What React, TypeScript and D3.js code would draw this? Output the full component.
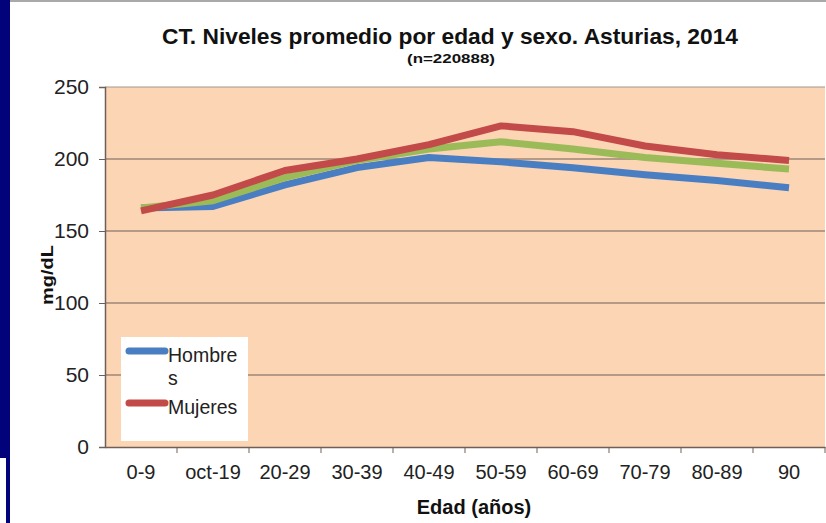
import React, { useRef, useEffect } from "react";
import * as d3 from "d3";

const categories = ["0-9", "oct-19", "20-29", "30-39", "40-49", "50-59", "60-69", "70-79", "80-89", "90"];
const hombres = [166, 167, 182, 194, 201, 198, 194, 189, 185, 180];
const mujeres = [164, 175, 192, 200, 210, 223, 219, 209, 203, 199];
const total = [166, 171, 187, 199, 207, 212, 207, 201, 197, 193];
const yTicks = [0, 50, 100, 150, 200, 250];

const W = 826;
const H = 523;
const margin = { top: 87, right: 1, bottom: 76, left: 105 };

export default function App() {
  const svgRef = useRef<SVGSVGElement>(null);

  useEffect(() => {
    if (!svgRef.current) return;
    const svg = d3.select(svgRef.current);
    svg.selectAll("*").remove();

    const font = "Liberation Sans, Arial, sans-serif";
    const innerW = W - margin.left - margin.right;
    const innerH = H - margin.top - margin.bottom;

    // background + slide border
    svg.append("rect").attr("width", W).attr("height", H).attr("fill", "#fff");
    svg.append("rect").attr("x", 0).attr("y", 0).attr("width", 10).attr("height", 458).attr("fill", "#02027a");
    svg.append("rect").attr("x", 6).attr("y", 458).attr("width", 4).attr("height", H - 458).attr("fill", "#02027a");
    svg.append("rect").attr("x", 10).attr("y", 0).attr("width", W - 10).attr("height", 2).attr("fill", "#a9a9a9");

    const x = d3.scaleBand<string>().domain(categories).range([0, innerW]);
    const y = d3.scaleLinear().domain([0, 250]).range([innerH, 0]);

    const g = svg.append("g").attr("transform", `translate(${margin.left},${margin.top})`);

    g.append("rect").attr("width", innerW).attr("height", innerH).attr("fill", "#fcd5b5");

    // gridlines
    g.selectAll(".grid")
      .data(yTicks.slice(1))
      .enter()
      .append("line")
      .attr("x1", 0)
      .attr("x2", innerW)
      .attr("y1", d => y(d))
      .attr("y2", d => y(d))
      .attr("stroke", d => (d === 250 ? "#a09890" : "#6e6058"))
      .attr("stroke-width", 1.2);

    // y axis
    const yAxis = g.append("g")
      .call(d3.axisLeft(y).tickValues(yTicks).tickSize(6).tickPadding(10) as any);
    yAxis.select(".domain").attr("stroke", "#6e6058").attr("stroke-width", 1.5);
    yAxis.selectAll(".tick line").attr("stroke", "#6e6058");
    yAxis.selectAll("text")
      .style("font-family", font)
      .style("font-size", "21px")
      .attr("fill", "#222");

    // x axis
    const xAxis = g.append("g").attr("transform", `translate(0,${innerH})`)
      .call(d3.axisBottom(x).tickSize(0).tickPadding(18) as any);
    xAxis.select(".domain").attr("stroke", "#6e6058").attr("stroke-width", 1.5);
    xAxis.selectAll("text")
      .style("font-family", font)
      .style("font-size", "20px")
      .attr("fill", "#222");
    g.selectAll(".xtick")
      .data(categories)
      .enter()
      .append("line")
      .attr("x1", d => (x(d) || 0) + x.bandwidth())
      .attr("x2", d => (x(d) || 0) + x.bandwidth())
      .attr("y1", innerH)
      .attr("y2", innerH + 6)
      .attr("stroke", "#6e6058");

    const line = d3.line<number>()
      .x((d, i) => (x(categories[i]) || 0) + x.bandwidth() / 2)
      .y(d => y(d));

    const series = [
      { values: hombres, color: "#4a7ec2" },
      { values: total, color: "#9bbb59" },
      { values: mujeres, color: "#c24a48" },
    ];
    series.forEach(s => {
      g.append("path")
        .datum(s.values)
        .attr("d", line)
        .attr("fill", "none")
        .attr("stroke", s.color)
        .attr("stroke-width", 7)
        .attr("stroke-linejoin", "round");
    });

    // legend
    const lg = svg.append("g").attr("transform", "translate(121,337)");
    lg.append("rect").attr("width", 127).attr("height", 104).attr("fill", "#fff");
    const legendItems = [
      { label: ["Hombre", "s"], color: "#4a7ec2", y: 14 },
      { label: ["Mujeres"], color: "#c24a48", y: 66 },
    ];
    legendItems.forEach(it => {
      lg.append("line")
        .attr("x1", 8).attr("x2", 44)
        .attr("y1", it.y).attr("y2", it.y)
        .attr("stroke", it.color).attr("stroke-width", 7).attr("stroke-linecap", "round");
      it.label.forEach((t, j) => {
        lg.append("text")
          .attr("x", 47)
          .attr("y", it.y + 11 + j * 23)
          .style("font-family", font)
          .style("font-size", "19.5px")
          .attr("fill", "#222")
          .text(t);
      });
    });

    // titles
    svg.append("text")
      .attr("x", 450).attr("y", 44)
      .attr("text-anchor", "middle")
      .attr("textLength", 576)
      .attr("lengthAdjust", "spacingAndGlyphs")
      .style("font-family", font).style("font-size", "22.5px").style("font-weight", "bold")
      .attr("fill", "#111")
      .text("CT. Niveles promedio por edad y sexo. Asturias, 2014");
    svg.append("text")
      .attr("x", 451).attr("y", 63)
      .attr("text-anchor", "middle")
      .attr("textLength", 88)
      .attr("lengthAdjust", "spacingAndGlyphs")
      .style("font-family", font).style("font-size", "13px").style("font-weight", "bold")
      .attr("fill", "#111")
      .text("(n=220888)");
    svg.append("text")
      .attr("x", 474).attr("y", 514)
      .attr("text-anchor", "middle")
      .style("font-family", font).style("font-size", "20px").style("font-weight", "bold")
      .attr("fill", "#111")
      .text("Edad (años)");
    svg.append("text")
      .attr("transform", "translate(53,275) rotate(-90)")
      .attr("text-anchor", "middle")
      .attr("textLength", 60)
      .attr("lengthAdjust", "spacingAndGlyphs")
      .style("font-family", font).style("font-size", "16px").style("font-weight", "bold")
      .attr("fill", "#111")
      .text("mg/dL");
  }, []);

  return (
    <div style={{ position: "fixed", left: 0, top: 0 }}>
      <svg ref={svgRef} width={W} height={H} style={{ display: "block" }} />
    </div>
  );
}
